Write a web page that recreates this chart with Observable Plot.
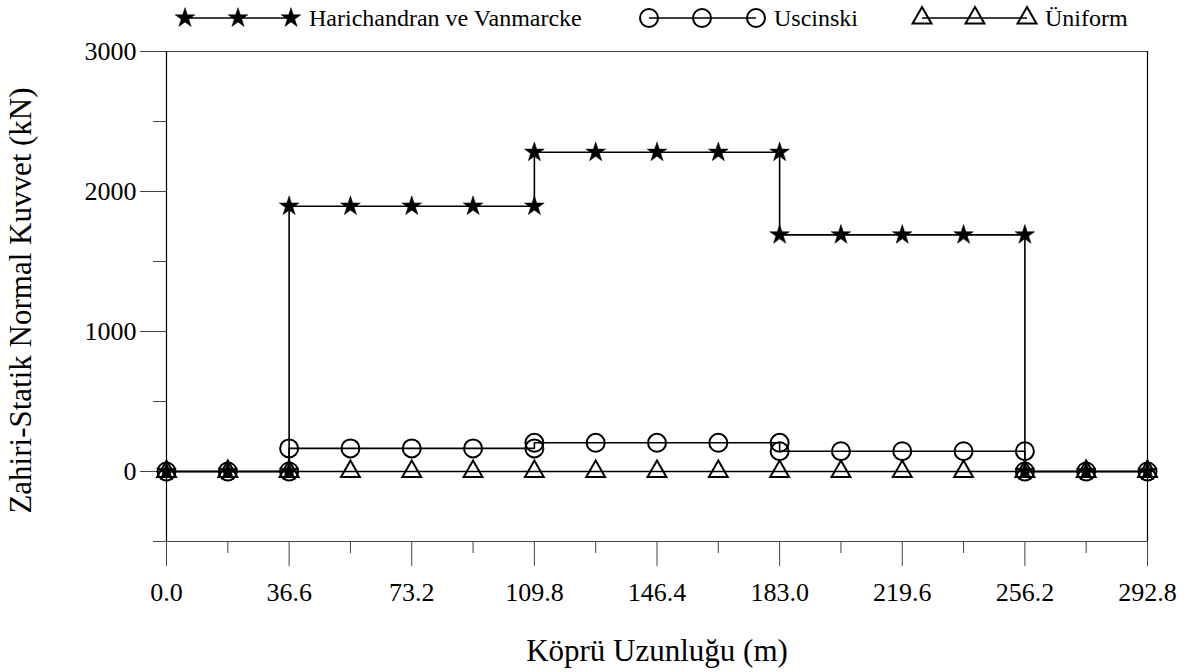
<!DOCTYPE html>
<html>
<head>
<meta charset="utf-8">
<script src="https://cdn.jsdelivr.net/npm/d3@7"></script>
<script src="https://cdn.jsdelivr.net/npm/@observablehq/plot@0.6"></script>
<style>
  body { margin: 0; background: #fff; font-family: 'Liberation Serif', 'Times New Roman', serif; }
  #wrap { position: relative; width: 1195px; height: 672px; }
  #legend { display: block; }
</style>
</head>
<body>
<div id="wrap">
  <svg id="legend" width="1195" height="36"></svg>
  <div id="chart"></div>
</div>
<script>
// ---- data ----
const seriesNames = ["Harichandran ve Vanmarcke", "Uscinski", "Üniform"];

const harichandranX = [0.0, 18.3, 36.6, 36.6, 54.9, 73.2, 91.5, 109.8, 109.8, 128.1, 146.4, 164.7, 183.0, 183.0, 201.3, 219.6, 237.9, 256.2, 256.2, 274.5, 292.8];
const harichandranY = [0, 0, 0, 1895, 1895, 1895, 1895, 1895, 2280, 2280, 2280, 2280, 2280, 1690, 1690, 1690, 1690, 1690, 0, 0, 0];

const uscinskiX = [0.0, 18.3, 36.6, 36.6, 54.9, 73.2, 91.5, 109.8, 109.8, 128.1, 146.4, 164.7, 183.0, 183.0, 201.3, 219.6, 237.9, 256.2, 256.2, 274.5, 292.8];
const uscinskiY = [0, 0, 0, 165, 165, 165, 165, 165, 205, 205, 205, 205, 205, 145, 145, 145, 145, 145, 0, 0, 0];

const uniformX = [0.0, 18.3, 36.6, 54.9, 73.2, 91.5, 109.8, 128.1, 146.4, 164.7, 183.0, 201.3, 219.6, 237.9, 256.2, 274.5, 292.8];
const uniformY = [0, 0, 0, 0, 0, 0, 0, 0, 0, 0, 0, 0, 0, 0, 0, 0, 0];

const xMajorTicks = [0.0, 36.6, 73.2, 109.8, 146.4, 183.0, 219.6, 256.2, 292.8];
const xMinorTicks = [18.3, 54.9, 91.5, 128.1, 164.7, 201.3, 237.9, 274.5];
const yMajorTicks = [0, 1000, 2000, 3000];
const yMinorTicks = [-500, 500, 1500, 2500];

const xLabel = "Köprü Uzunluğu (m)";
const yLabel = "Zahiri-Statik Normal Kuvvet (kN)";

// ---- build tables ----
const rows = (name, xs, ys) => xs.map((x, i) => ({series: name, x, y: ys[i]}));
const hv = rows(seriesNames[0], harichandranX, harichandranY);
const us = rows(seriesNames[1], uscinskiX, uscinskiY);
const un = rows(seriesNames[2], uniformX, uniformY);

const FONT = "'Liberation Serif', 'Times New Roman', serif";
const axisColor = "#444";

const chart = Plot.plot({
  width: 1195,
  height: 636,
  marginTop: 15,
  marginBottom: 131,
  marginLeft: 166,
  marginRight: 48,
  x: {domain: [0, 292.8]},
  y: {domain: [-500, 3000]},
  style: {fontFamily: FONT, fontSize: "26px", color: "black", background: "white"},
  marks: [
    // frame lines
    Plot.ruleY([3000], {stroke: axisColor, strokeWidth: 1.2}),
    Plot.ruleY([-500], {stroke: axisColor, strokeWidth: 1.2}),
    Plot.ruleX([0], {y1: -500, y2: 3000, stroke: "black", strokeWidth: 1.2}),
    Plot.ruleX([292.8], {y1: -500, y2: 3000, stroke: "black", strokeWidth: 1.2}),
    // axes
    Plot.axisY({ticks: yMajorTicks, tickSize: 26, tickPadding: 4, tickFormat: d => String(d), label: null, stroke: axisColor, fontSize: 26, fontFamily: FONT}),
    Plot.axisY({ticks: yMinorTicks, tickSize: 13, tickFormat: () => "", label: null, stroke: axisColor}),
    Plot.axisX({ticks: xMajorTicks, tickSize: 25, tickPadding: 16, tickFormat: d => d.toFixed(1), label: null, stroke: axisColor, fontSize: 26, fontFamily: FONT}),
    Plot.axisX({ticks: xMinorTicks, tickSize: 12, tickFormat: () => "", label: null, stroke: axisColor}),
    // axis titles
    Plot.text([yLabel], {frameAnchor: "left", dx: -145, dy: 4, rotate: -90, fontSize: 31, textAnchor: "middle", lineAnchor: "middle", fill: "black", fontFamily: FONT}),
    Plot.text([xLabel], {frameAnchor: "bottom", dy: 110, fontSize: 31, textAnchor: "middle", lineAnchor: "middle", fill: "black", fontFamily: FONT}),
    // lines
    Plot.line(un, {x: "x", y: "y", stroke: "black", strokeWidth: 1.6}),
    Plot.line(us, {x: "x", y: "y", stroke: "black", strokeWidth: 1.6}),
    Plot.line(hv, {x: "x", y: "y", stroke: "black", strokeWidth: 1.6}),
    // markers
    Plot.dot(un, {x: "x", y: "y", symbol: "triangle", r: 7, stroke: "black", strokeWidth: 2, fill: "none"}),
    Plot.dot(us, {x: "x", y: "y", symbol: "circle", r: 9, stroke: "black", strokeWidth: 2, fill: "none"}),
    Plot.dot(hv, {x: "x", y: "y", symbol: "star", r: 6.2, fill: "black", stroke: "black", strokeWidth: 0.5})
  ]
});
document.getElementById("chart").appendChild(chart);

// ---- legend ----
const legend = d3.select("#legend");
const items = [
  {name: seriesNames[0], sym: d3.symbolStar, size: Math.PI * 6.2 * 6.2, fill: "black", xs: [185, 238, 291], tx: 309},
  {name: seriesNames[1], sym: d3.symbolCircle, size: Math.PI * 9 * 9, fill: "none", xs: [649, 702, 756], tx: 774},
  {name: seriesNames[2], sym: d3.symbolTriangle, size: Math.PI * 7 * 7, fill: "none", xs: [922, 975, 1027], tx: 1045}
];
const cy = 18;
for (const it of items) {
  legend.append("line").attr("x1", it.xs[0]).attr("x2", it.xs[2]).attr("y1", cy).attr("y2", cy)
    .attr("stroke", "black").attr("stroke-width", 1.6);
  for (const x of it.xs) {
    legend.append("path").attr("d", d3.symbol(it.sym, it.size)())
      .attr("transform", `translate(${x},${cy})`)
      .attr("fill", it.fill).attr("stroke", "black").attr("stroke-width", it.fill === "none" ? 2 : 0.5);
  }
  legend.append("text").attr("x", it.tx).attr("y", cy).attr("dy", "0.35em")
    .attr("font-family", FONT).attr("font-size", 24).attr("fill", "black").text(it.name);
}
</script>
</body>
</html>
